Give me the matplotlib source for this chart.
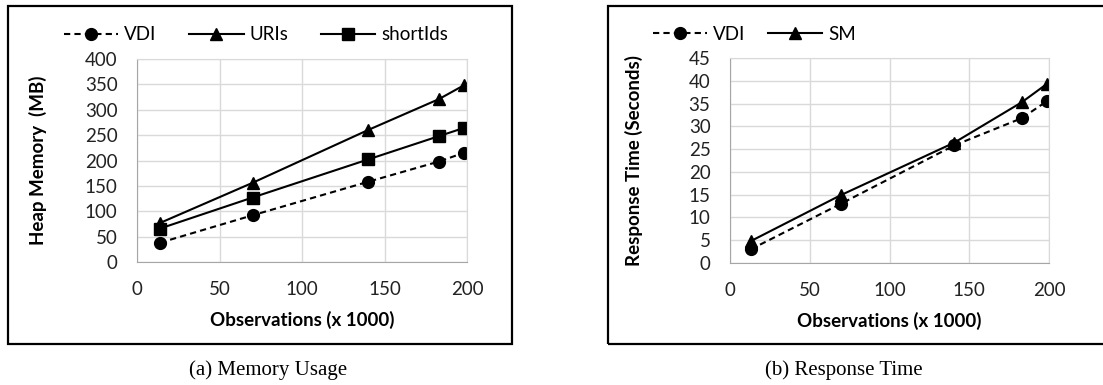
import matplotlib.pyplot as plt
from matplotlib.patches import Rectangle

# Observations (x 1000)
obs = [14, 70, 140, 183, 198]

# (a) Heap memory in MB
mem_vdi = [38, 92, 158, 198, 215]
mem_uris = [77, 156, 260, 321, 348]
mem_shortids = [66, 127, 202, 248, 264]

# (b) Response time in seconds
resp_obs = [13, 69.5, 140.5, 183, 199]
resp_vdi = [3.0, 13.0, 25.8, 31.8, 35.6]
resp_sm = [4.8, 14.9, 26.4, 35.3, 39.4]

W, H = 1103, 385
plt.rcParams["font.family"] = ["Lato", "DejaVu Sans"]

fig = plt.figure(figsize=(W / 100, H / 100), dpi=100)

GRID = "#d9d9d9"
AXIS = "#a6a6a6"
dash = (0, (3, 2))


def fx(px):
    return px / W


def fy(py):
    return 1 - py / H


def style_axes(ax, ylim, yticks, ylabel, ypad):
    ax.set_xlim(0, 200)
    ax.set_ylim(*ylim)
    ax.set_xticks([0, 50, 100, 150, 200])
    ax.set_yticks(yticks)
    ax.grid(True, color=GRID, linewidth=1)
    ax.set_axisbelow(True)
    for side in ["top", "right"]:
        ax.spines[side].set_color(GRID)
    for side in ["left", "bottom"]:
        ax.spines[side].set_color(AXIS)
    ax.tick_params(length=0, labelsize=13.5, colors="#222222")
    ax.tick_params(axis="y", pad=14)
    ax.tick_params(axis="x", pad=14)
    ax.set_xlabel("Observations (x 1000)", fontsize=13.5, fontweight="bold", labelpad=9)
    ax.set_ylabel(ylabel, fontsize=13.5, fontweight="bold", labelpad=ypad)


def add_legend(ax, x0, y0, colspace):
    # legend anchored at the left end of the first handle
    fig.legend(*ax.get_legend_handles_labels(), loc="center left",
               bbox_to_anchor=(fx(x0), fy(y0)), ncol=3, frameon=False, fontsize=13.5,
               borderpad=0, borderaxespad=0, handlelength=2.9, handletextpad=0.3,
               columnspacing=colspace)


# --- (a) Memory Usage ---
ax1 = fig.add_axes([fx(137), fy(262), fx(330), 203 / H])
ax1.plot(obs, mem_vdi, color="black", lw=1.5, linestyle=dash, marker="o", ms=8.5, label="VDI")
ax1.plot(obs, mem_uris, color="black", lw=1.5, marker="^", ms=9, label="URIs")
ax1.plot(obs, mem_shortids, color="black", lw=1.5, marker="s", ms=8, label="shortIds")
style_axes(ax1, (0, 400), range(0, 401, 50), "Heap Memory  (MB)", 27)
add_legend(ax1, 64, 35, 1.75)

# --- (b) Response Time ---
ax2 = fig.add_axes([fx(730), fy(263), fx(319), 205 / H])
ax2.plot(resp_obs, resp_vdi, color="black", lw=1.5, linestyle=dash, marker="o", ms=8.5, label="VDI")
ax2.plot(resp_obs, resp_sm, color="black", lw=1.5, marker="^", ms=9, label="SM")
style_axes(ax2, (0, 45), range(0, 46, 5), "Response Time (Seconds)", 33)
add_legend(ax2, 653, 34, 1.2)

# frames around each chart
fig.patches.append(Rectangle((fx(8), fy(344)), fx(504), (344 - 6) / H,
                             transform=fig.transFigure, fill=False, lw=1.6, ec="black"))
fig.patches.append(Rectangle((fx(608), fy(344)), fx(500), (344 - 6) / H,
                             transform=fig.transFigure, fill=False, lw=1.6, ec="black"))

# captions
fig.text(fx(268), fy(370), "(a) Memory Usage", family="Liberation Serif",
         fontsize=15, ha="center", va="center")
fig.text(fx(844), fy(370), "(b) Response Time", family="Liberation Serif",
         fontsize=15, ha="center", va="center")

fig.savefig("out.png", dpi=100)
